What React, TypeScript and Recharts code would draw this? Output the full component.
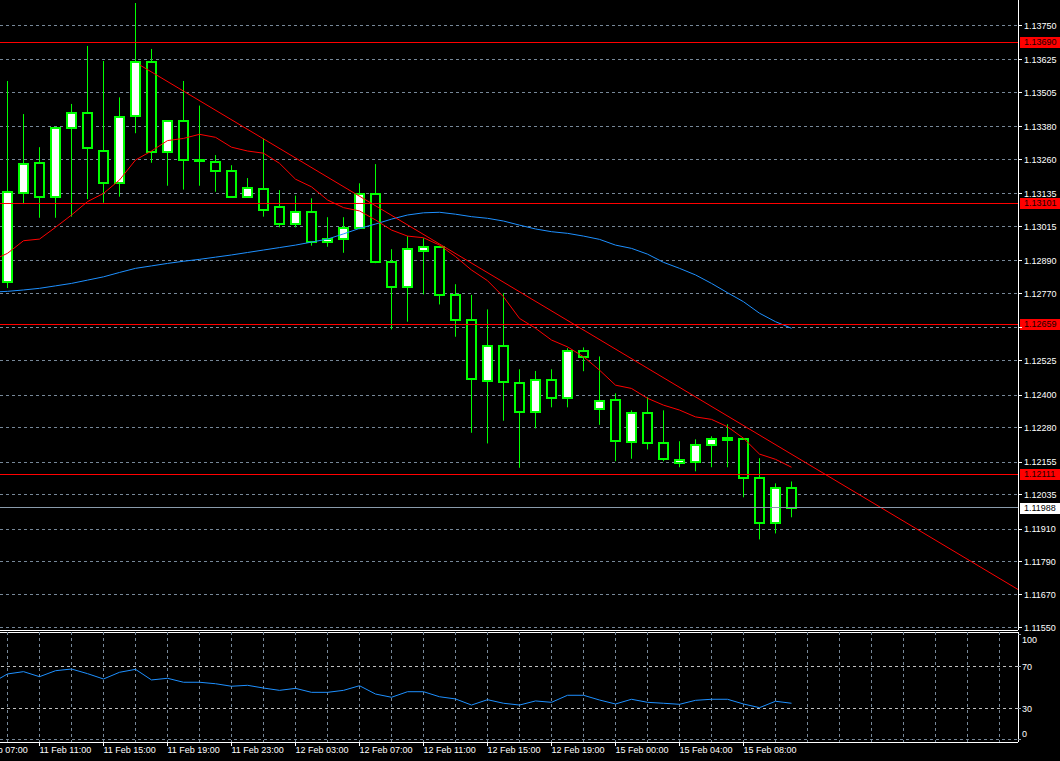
import { Bar, CartesianGrid, ComposedChart, Line, ReferenceLine, XAxis, YAxis } from "recharts"

// hourly EURUSD candles, bar 0 = 11 Feb 09:00
const opens = [
  1.12814, 1.1314, 1.13247, 1.13125, 1.13375, 1.1343, 1.13291, 1.13174, 1.13421, 1.13616,
  1.13287, 1.13401, 1.13259, 1.13251, 1.13218, 1.13125, 1.13152, 1.13086, 1.13024, 1.13068,
  1.12958, 1.12969, 1.13009, 1.13135, 1.12885, 1.12794, 1.12925, 1.1294, 1.12764, 1.12673,
  1.1245, 1.12578, 1.12443, 1.12337, 1.12454, 1.12388, 1.1256, 1.12348, 1.12381, 1.12227,
  1.12333, 1.12223, 1.1215, 1.12154, 1.12216, 1.12234, 1.12238, 1.12095, 1.11931, 1.12059,
]
const highs = [
  1.13548, 1.13427, 1.13306, 1.13378, 1.13464, 1.13676, 1.13621, 1.13488, 1.13833, 1.13665,
  1.13405, 1.13548, 1.13458, 1.13277, 1.1324, 1.13193, 1.13337, 1.13149, 1.13129, 1.13119,
  1.1305, 1.1305, 1.13174, 1.13244, 1.12933, 1.12981, 1.12973, 1.12945, 1.12805, 1.12766,
  1.12713, 1.12772, 1.12494, 1.12488, 1.12494, 1.12571, 1.12574, 1.12541, 1.12406, 1.12344,
  1.12392, 1.12344, 1.12231, 1.12238, 1.12249, 1.12293, 1.1224, 1.12169, 1.12077, 1.12084,
]
const lows = [
  1.12791, 1.13098, 1.13048, 1.13048, 1.13052, 1.13116, 1.13103, 1.13125, 1.13357, 1.13249,
  1.13165, 1.13151, 1.13165, 1.13143, 1.13123, 1.13121, 1.13052, 1.13013, 1.13013, 1.12946,
  1.12942, 1.1292, 1.13006, 1.12882, 1.1264, 1.12668, 1.12768, 1.12731, 1.12613, 1.12262,
  1.12223, 1.12306, 1.12134, 1.12278, 1.12355, 1.12355, 1.12487, 1.12291, 1.12158, 1.12167,
  1.12201, 1.12158, 1.12136, 1.12121, 1.12136, 1.12136, 1.12026, 1.11872, 1.11894, 1.11953,
]
const closes = [
  1.13141, 1.13244, 1.13125, 1.13375, 1.1343, 1.13302, 1.13174, 1.13417, 1.13616, 1.13287,
  1.13401, 1.13258, 1.13255, 1.13218, 1.13125, 1.13156, 1.13077, 1.13024, 1.13068, 1.12958,
  1.1297, 1.13009, 1.13135, 1.12885, 1.12794, 1.12933, 1.1294, 1.12764, 1.12673, 1.12457,
  1.12578, 1.12446, 1.12337, 1.12454, 1.12388, 1.1256, 1.12538, 1.12377, 1.12231, 1.12333,
  1.12223, 1.12165, 1.12161, 1.12216, 1.12238, 1.12242, 1.12095, 1.11931, 1.12059, 1.11988,
]

// moving averages and RSI, first value is bar -1 (just off the left edge)
const maFast = [
  1.12891,
  1.12918, 1.12964, 1.1297, 1.13013, 1.13058, 1.13107, 1.13137, 1.13186, 1.13259, 1.13292,
  1.1333, 1.13338, 1.13353, 1.13342, 1.13306, 1.13292, 1.13284, 1.13247, 1.13189, 1.13161,
  1.13113, 1.13085, 1.13073, 1.1304, 1.13003, 1.12981, 1.12975, 1.12948, 1.12906, 1.12857,
  1.12818, 1.12759, 1.1268, 1.12644, 1.12601, 1.12576, 1.1254, 1.12491, 1.12436, 1.12424,
  1.12388, 1.12363, 1.12345, 1.1232, 1.12311, 1.12284, 1.12242, 1.12184, 1.12165, 1.12136,
]
const maSlow = [
  1.12776,
  1.12779, 1.12784, 1.1279, 1.12799, 1.12808, 1.1282, 1.12832, 1.12848, 1.12863, 1.12872,
  1.12881, 1.12889, 1.12896, 1.12904, 1.12912, 1.12921, 1.1293, 1.12939, 1.12948, 1.12959,
  1.1297, 1.12989, 1.13009, 1.13025, 1.13043, 1.13058, 1.13066, 1.13068, 1.13061, 1.13052,
  1.13046, 1.13036, 1.13021, 1.13007, 1.12997, 1.12991, 1.12981, 1.12969, 1.12948, 1.12936,
  1.12915, 1.12885, 1.12863, 1.12839, 1.12808, 1.12774, 1.12741, 1.12699, 1.12668, 1.12644,
]
const rsi = [
  54.0,
  62.7, 64.9, 60.1, 65.8, 67.4, 63.0, 57.9, 64.3, 67.1, 57.0,
  58.6, 54.8, 54.8, 53.4, 51.0, 51.9, 49.3, 47.1, 49.0, 45.2,
  45.2, 47.1, 51.5, 43.6, 40.5, 45.8, 45.8, 41.0, 38.9, 33.1,
  38.2, 34.8, 33.1, 37.0, 35.7, 42.4, 42.4, 37.9, 34.1, 38.6,
  35.7, 34.8, 33.8, 37.6, 38.6, 38.6, 34.1, 30.6, 36.7, 34.8,
]

const trendLine = [
  { bar: 8.28, trend: 1.13606 },
  { bar: 63.16, trend: 1.11689 },
]

const priceTicks = [
  1.1375, 1.13625, 1.13505, 1.1338, 1.1326, 1.13135, 1.13015, 1.1289, 1.1277, 1.12645,
  1.12525, 1.124, 1.1228, 1.12155, 1.12035, 1.1191, 1.1179, 1.1167, 1.1155,
]
const levels = [1.1369, 1.13101, 1.12659, 1.12111]
const bidPrice = 1.11988
const rsiTicks = [0, 30, 70, 100]
const rsiLevels = [30, 70]
const timeBars = [-2, 2, 6, 10, 14, 18, 22, 26, 30, 34, 38, 42, 46]
const timeLabels = [
  "11 Feb 07:00", "11 Feb 11:00", "11 Feb 15:00", "11 Feb 19:00", "11 Feb 23:00",
  "12 Feb 03:00", "12 Feb 07:00", "12 Feb 11:00", "12 Feb 15:00", "12 Feb 19:00",
  "15 Feb 00:00", "15 Feb 04:00", "15 Feb 08:00",
]

const X_DOMAIN: [number, number] = [-0.46875, 63.15625]
const PRICE_DOMAIN: [number, number] = [1.11541, 1.13844]
const RSI_DOMAIN: [number, number] = [-2.1, 102.67]
const GRID = "#778899"
const GREEN = "#00ff00"
const FONT = '"Liberation Sans", Arial, sans-serif'
const gridBars = Array.from({ length: 32 }, (_, k) => k * 2)

const priceRows = maFast.map((fast, k) => {
  const bar = k - 1
  const row: any = { bar, fast, slow: maSlow[k] }
  if (bar >= 0) {
    row.open = opens[bar]
    row.close = closes[bar]
    row.high = highs[bar]
    row.low = lows[bar]
    row.range = [lows[bar], highs[bar]]
  }
  return row
})
const rsiRows = rsi.map((v, k) => ({ bar: k - 1, rsi: v }))

function Candle(props: any) {
  const { x, y, width, height, payload } = props
  if (!payload || payload.open == null) return null
  const top = height < 0 ? y + height : y
  const h = Math.abs(height)
  const { open, close, high, low } = payload
  const per = high > low ? h / (high - low) : 0
  const yOf = (p: number) => top + (high - p) * per
  const cx = Math.floor(x + width / 2) + 0.5
  const b1 = Math.round(Math.min(yOf(open), yOf(close)))
  const b2 = Math.round(Math.max(yOf(open), yOf(close)))
  return (
    <g>
      <line x1={cx} x2={cx} y1={top} y2={top + h} stroke={GREEN} strokeWidth={1} />
      <rect
        x={cx - 4.5}
        y={b1}
        width={9}
        height={Math.max(b2 - b1, 1)}
        fill={close >= open ? "#ffffff" : "#000000"}
        stroke={GREEN}
        strokeWidth={2}
      />
    </g>
  )
}

function PriceTag({ viewBox, text, bg, fg }: any) {
  if (!viewBox) return null
  const right = viewBox.x + viewBox.width
  const y = Math.round(viewBox.y)
  return (
    <g>
      <rect x={right + 2} y={y - 5} width={40} height={11} fill={bg} />
      <text x={right + 6} y={y} dy="0.36em" fontSize={9} fill={fg} fontFamily={FONT}>
        {text}
      </text>
    </g>
  )
}

// price labels that sit under a level tag are covered in the terminal
function PriceTick({ x, y, payload }: any) {
  const v = payload.value
  if (levels.some((lv) => Math.abs(lv - v) < 0.0002)) return null
  return (
    <text x={x} y={y} dy="0.36em" fontSize={9} fill="#ffffff" fontFamily={FONT} textAnchor="start">
      {v.toFixed(5)}
    </text>
  )
}

function RsiTick({ x, y, payload }: any) {
  const v = payload.value
  const shift = v === 100 ? 5 : v === 0 ? -6 : 0
  return (
    <text x={x} y={y + shift} dy="0.36em" fontSize={9} fill="#ffffff" fontFamily={FONT} textAnchor="start">
      {v}
    </text>
  )
}

function TimeTick({ x, y, payload }: any) {
  const idx = timeBars.indexOf(payload.value)
  return (
    <text x={x} y={y} dy="0.71em" fontSize={9} fill="#ffffff" fontFamily={FONT} textAnchor="start">
      {idx >= 0 ? timeLabels[idx] : ""}
    </text>
  )
}

export default function App() {
  return (
    <div
      style={{
        position: "fixed",
        left: 0,
        top: 0,
        width: 1060,
        height: 761,
        background: "#000",
        overflow: "hidden",
        fontFamily: FONT,
      }}
    >
      <div style={{ position: "absolute", left: 0, top: 0 }}>
        <ComposedChart width={1060} height={632} data={priceRows} margin={{ top: 0, right: 0, bottom: 0, left: 0 }}>
          <CartesianGrid
            stroke={GRID}
            strokeDasharray="3 3"
            shapeRendering="crispEdges"
            horizontalValues={priceTicks}
            verticalValues={gridBars}
          />
          <XAxis
            dataKey="bar"
            type="number"
            domain={X_DOMAIN}
            allowDataOverflow
            height={2}
            tick={false}
            tickLine={false}
            axisLine={{ stroke: "#ffffff", shapeRendering: "crispEdges" }}
          />
          <YAxis
            orientation="right"
            type="number"
            domain={PRICE_DOMAIN}
            allowDataOverflow
            ticks={priceTicks}
            interval={0}
            width={42}
            tickSize={4}
            tickMargin={2}
            tick={<PriceTick />}
            tickLine={{ stroke: "#ffffff", shapeRendering: "crispEdges" }}
            axisLine={{ stroke: "#ffffff", shapeRendering: "crispEdges" }}
          />
          <Bar dataKey="range" barSize={10} shape={<Candle />} isAnimationActive={false} />
          <Line dataKey="slow" stroke="#1e90ff" strokeWidth={1} dot={false} isAnimationActive={false} />
          <Line dataKey="fast" stroke="#ff0000" strokeWidth={1} dot={false} isAnimationActive={false} />
          <Line
            data={trendLine}
            dataKey="trend"
            stroke="#ff0000"
            strokeWidth={1}
            dot={false}
            isAnimationActive={false}
          />
          {levels.map((lv) => (
            <ReferenceLine
              key={lv}
              y={lv}
              stroke="#ff0000"
              strokeWidth={1}
              shapeRendering="crispEdges"
              label={<PriceTag text={lv.toFixed(5)} bg="#ff0000" fg="#1a0000" />}
            />
          ))}
          <ReferenceLine
            y={bidPrice}
            stroke="#8a9bab"
            strokeWidth={1}
            shapeRendering="crispEdges"
            label={<PriceTag text={bidPrice.toFixed(5)} bg="#ffffff" fg="#000000" />}
          />
        </ComposedChart>
      </div>
      <div style={{ position: "absolute", left: 0, top: 632, width: 1019, height: 1, background: "#ffffff" }} />
      <div style={{ position: "absolute", left: 0, top: 632 }}>
        <ComposedChart width={1060} height={129} data={rsiRows} margin={{ top: 0, right: 0, bottom: 0, left: 0 }}>
          <CartesianGrid
            stroke={GRID}
            strokeDasharray="3 3"
            shapeRendering="crispEdges"
            horizontalValues={[0]}
            verticalValues={gridBars}
          />
          <XAxis
            dataKey="bar"
            type="number"
            domain={X_DOMAIN}
            allowDataOverflow
            ticks={timeBars}
            interval={0}
            height={19}
            tickSize={4}
            tickMargin={1}
            tick={<TimeTick />}
            tickLine={{ stroke: "#ffffff", shapeRendering: "crispEdges" }}
            axisLine={{ stroke: "#ffffff", shapeRendering: "crispEdges" }}
          />
          <YAxis
            orientation="right"
            type="number"
            domain={RSI_DOMAIN}
            allowDataOverflow
            ticks={rsiTicks}
            interval={0}
            width={42}
            tickSize={3}
            tickMargin={1}
            tick={<RsiTick />}
            tickLine={{ stroke: "#9aa6b2", shapeRendering: "crispEdges" }}
            axisLine={{ stroke: "#ffffff", shapeRendering: "crispEdges" }}
          />
          {rsiLevels.map((lv) => (
            <ReferenceLine
              key={lv}
              y={lv}
              stroke="#c0c0c0"
              strokeDasharray="3 3"
              strokeWidth={1}
              shapeRendering="crispEdges"
            />
          ))}
          <Line dataKey="rsi" stroke="#1e90ff" strokeWidth={1} dot={false} isAnimationActive={false} />
        </ComposedChart>
      </div>
    </div>
  )
}
